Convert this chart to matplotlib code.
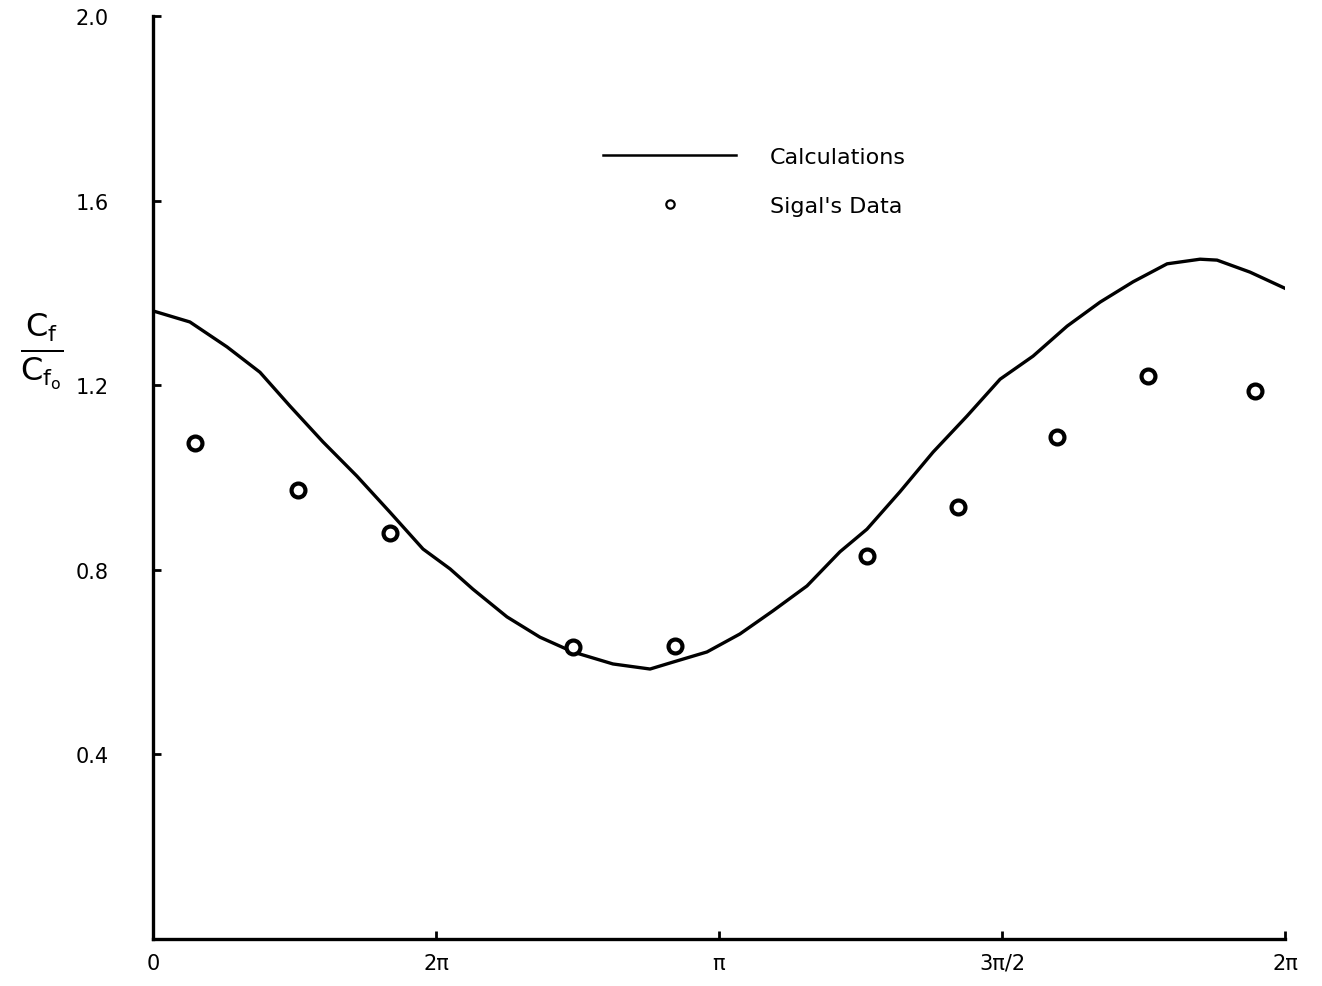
import numpy as np
import matplotlib
matplotlib.use("Agg")
import matplotlib.pyplot as plt
from matplotlib.lines import Line2D

# calculated curve (x in radians)
calc_x = [0.0, 0.205, 0.411, 0.594, 0.760, 0.944, 1.132, 1.315, 1.499,
          1.649, 1.776, 1.965, 2.148, 2.331, 2.553, 2.759, 2.886, 3.075,
          3.258, 3.441, 3.630, 3.813, 3.963, 4.146, 4.330, 4.518, 4.702,
          4.885, 5.074, 5.257, 5.440, 5.629, 5.812, 5.906, 6.089, 6.294]
calc_y = [1.361, 1.337, 1.283, 1.228, 1.155, 1.077, 1.003, 0.925, 0.845,
          0.802, 0.758, 0.698, 0.654, 0.622, 0.596, 0.585, 0.600, 0.622,
          0.661, 0.711, 0.765, 0.839, 0.888, 0.969, 1.055, 1.133, 1.213,
          1.263, 1.328, 1.380, 1.424, 1.463, 1.473, 1.471, 1.445, 1.408]

# Sigal's data points
sig_x = [0.233, 0.805, 1.315, 2.331, 2.897, 3.962, 4.467, 5.017, 5.522, 6.115]
sig_y = [1.075, 0.973, 0.88, 0.633, 0.635, 0.83, 0.936, 1.088, 1.22, 1.187]

xtick_pos = [0, np.pi / 2, np.pi, 3 * np.pi / 2, 2 * np.pi]
xtick_lab = ["0", "2π", "π", "3π/2", "2π"]
ytick_pos = [0.4, 0.8, 1.2, 1.6, 2.0]
ytick_lab = ["0.4", "0.8", "1.2", "1.6", "2.0"]

plt.rcParams['font.family'] = ['DejaVu Sans']

fig = plt.figure(figsize=(13.22, 9.87), dpi=100)
ax = fig.add_axes([0.1157, 0.0476, 0.8563, 0.9352])

ax.plot(calc_x, calc_y, color='black', lw=2.4, solid_capstyle='round',
        solid_joinstyle='round')
ax.plot(sig_x, sig_y, 'o', ms=10, mfc='white', mec='black', mew=3.0,
        linestyle='none')

ax.set_xlim(0, 2 * np.pi)
ax.set_ylim(0, 2.0)
for s in ['top', 'right']:
    ax.spines[s].set_visible(False)
for s in ['left', 'bottom']:
    ax.spines[s].set_linewidth(2.4)

ax.set_xticks(xtick_pos)
ax.set_xticklabels(xtick_lab, fontsize=15)
ax.set_yticks(ytick_pos)
ax.set_yticklabels(ytick_lab, fontsize=15)
ax.tick_params(axis='both', direction='in', length=6, width=2)
ax.tick_params(axis='y', pad=32)
ax.tick_params(axis='x', pad=10)

ax.text(-0.098, 0.638, r'$\frac{\mathsf{C_f}}{\mathsf{C_{f_o}}}$',
        transform=ax.transAxes, fontsize=33, ha='center', va='center')

handles = [Line2D([], [], color='black', lw=1.8),
           Line2D([], [], marker='o', ms=6, mfc='white', mec='black',
                  mew=1.6, linestyle='none')]
ax.legend(handles, ["Calculations", "Sigal's Data"], loc='upper left',
          bbox_to_anchor=(0.38, 0.88), frameon=False, fontsize=16,
          handlelength=6, handletextpad=1.5, labelspacing=1.3)

fig.savefig("out.png", dpi=100)
